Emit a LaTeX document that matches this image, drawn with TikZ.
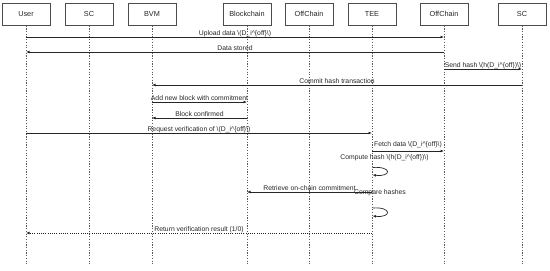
\documentclass[tikz,border=0pt]{standalone}
\usepackage{fontspec}
\setmainfont{Liberation Sans}
\usetikzlibrary{arrows.meta}
\newcommand{\Doff}{\textbackslash(D\_i\textasciicircum\{off\}\textbackslash)}
\newcommand{\hDoff}{\textbackslash(h(D\_i\textasciicircum\{off\})\textbackslash)}
\begin{document}
\begin{tikzpicture}[x=1bp,y=-1bp,
  actor/.style={draw=black!70,fill=white,line width=0.65bp,minimum width=48bp,minimum height=22bp,inner sep=0pt,font=\fontsize{7.3bp}{8bp}\selectfont,text=black!85},
  lifeln/.style={draw=black!65,line width=0.75bp,dash pattern=on 1.2bp off 1.5bp},
  msg/.style={draw=black!85,line width=0.7bp,-{Latex[length=3.5bp,width=2.8bp]}},
  retmsg/.style={msg,dash pattern=on 1bp off 1.2bp},
  lbl/.style={font=\fontsize{6.8bp}{8bp}\selectfont,text=black!85,inner sep=0pt,anchor=base}]
\useasboundingbox (0,0) rectangle (550,270);
% actors
\foreach \n/\x/\t in {U/26/User,S/89/SC,V/152/BVM,B/247/Blockchain,O/309/OffChain,T/372/TEE,P/444/OffChain,Q/522/SC}{
  \node[actor,anchor=north] (\n) at (\x,3) {\t};
  \coordinate (\n e) at (\x,265);
  \draw[lifeln] (\n.south) -- (\n e);
}
% helper coordinates for message rows
\foreach \n/\x in {U/26,S/89,V/152,B/247,O/309,T/372,P/444,Q/522}{
  \foreach \r/\y in {1/37,2/52,3/69,4/85,5/102,6/118,7/133,8/151,10/192,12/233}{
    \coordinate (\n\r) at (\x,\y);
  }
}
% messages
\draw[msg] (U1) -- (P1) node[lbl,midway,yshift=1.8bp] {Upload data \Doff};
\draw[msg] (P2) -- (U2) node[lbl,midway,yshift=1.8bp] {Data stored};
\draw[msg] (P3) -- (Q3) node[lbl,midway,yshift=1.6bp] {Send hash \hDoff};
\draw[msg] (Q4) -- (V4) node[lbl,midway,yshift=1.8bp] {Commit hash transaction};
\draw[msg] (V5) -- (B5) node[lbl,midway,yshift=1.8bp] {Add new block with commitment};
\draw[msg] (B6) -- (V6) node[lbl,midway,yshift=1.8bp] {Block confirmed};
\draw[msg] (U7) -- (T7) node[lbl,midway,yshift=1.8bp] {Request verification of \Doff};
\draw[msg] (T8) -- (P8) node[lbl,midway,yshift=5bp] {Fetch data \Doff};
% compute hash loop
\node[lbl,anchor=center] (ch) at (384.5,158) {Compute hash \hDoff};
\coordinate (L1a) at (372.5,167.5);
\coordinate (L1b) at (372.5,175);
\draw[msg] (L1a) .. controls (392,166) and (392,177) .. (L1b);
% retrieve
\draw[msg] (T10) -- (B10) node[lbl,midway,yshift=1.8bp] {Retrieve on-chain commitment};
% compare hashes loop
\node[lbl,anchor=center] (cmp) at (380,193) {Compare hashes};
\coordinate (L2a) at (372.5,208);
\coordinate (L2b) at (372.5,216);
\draw[msg] (L2a) .. controls (392,206.5) and (392,218) .. (L2b);
% return
\draw[retmsg] (T12) -- (U12) node[lbl,midway,yshift=1.8bp] {Return verification result (1/0)};
\end{tikzpicture}
\end{document}
